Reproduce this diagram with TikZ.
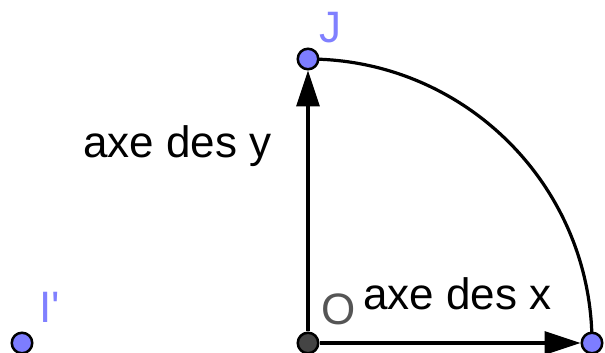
\documentclass[tikz,border=0pt]{standalone}
\usepackage{fontspec}
\setmainfont{Liberation Sans}
\usetikzlibrary{arrows.meta,backgrounds}
\definecolor{GeoBlue}{RGB}{125,125,255}
\definecolor{GeoLabel}{RGB}{128,128,255}
\definecolor{GeoDark}{RGB}{68,68,68}
\definecolor{GeoGrey}{RGB}{85,85,85}

\begin{document}
\begin{tikzpicture}[x=1pt,y=1pt,
    pt/.style={circle,draw=black,line width=2.5pt,fill=GeoBlue,minimum size=20.5pt,inner sep=0pt},
    lbl/.style={font=\fontsize{44}{50}\selectfont,anchor=base west,inner sep=0pt},
    axe/.style={line width=3.2pt,-{Triangle[length=36pt,width=23pt]}}]
  % unit circle quarter: O origin, I on x axis, J on y axis, radius 284
  \def\r{284}
  \useasboundingbox (0,0) rectangle (605,353);

  % Points
  \node[pt,fill=GeoDark] (O) at (308,10) {};
  \node[pt] (I) at (308+\r,10) {};
  \node[pt] (J) at (308,10+\r) {};
  \node[pt] (Ip) at (22,10) {};

  % Point labels
  \node[lbl,text=GeoGrey] (Olbl) at (321,28) {O};
  \node[lbl,text=GeoLabel] (Jlbl) at (319,310) {J};
  \node[lbl,text=GeoLabel] (Iplbl) at (39,30) {I\textquotesingle};

  % Axis labels
  \node[lbl] (ylbl) at (83,195) {axe des y};
  \node[lbl] (xlbl) at (363,43) {axe des x};

  % Axes and arc, under the points
  \begin{scope}[on background layer]
    \draw[axe] (O) -- (J);
    \draw[axe] (O) -- (I);
    \draw[line width=3.2pt] (J.center) arc[start angle=90,end angle=0,radius=\r];
  \end{scope}
\end{tikzpicture}
\end{document}
